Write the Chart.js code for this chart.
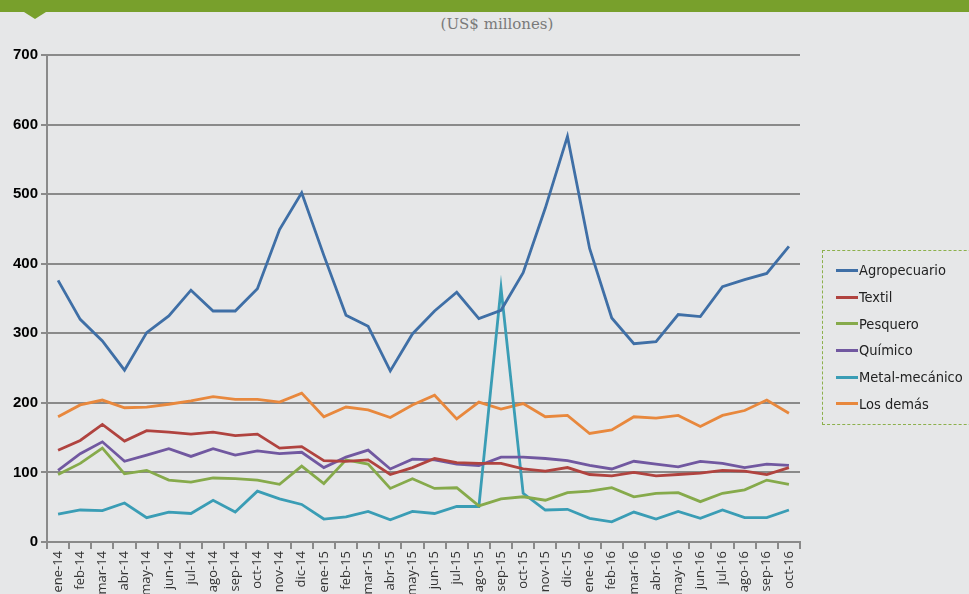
<!DOCTYPE html>
<html>
<head>
<meta charset="utf-8">
<script src="https://cdn.jsdelivr.net/npm/chart.js@4"></script>
<style>
  html, body { margin: 0; padding: 0; background: #e6e7e8; }
  #wrap { position: relative; width: 969px; height: 594px; overflow: hidden; }
  #topbar { position: absolute; left: 0; top: 0; width: 969px; height: 12px; background: #78a02c; }
  #notch { position: absolute; left: 24px; top: 12px; width: 0; height: 0;
    border-left: 11px solid transparent; border-right: 11px solid transparent; border-top: 7px solid #78a02c; }
  #unit { position: absolute; left: 0; width: 994px; top: 15px; text-align: center;
    font: 15px "DejaVu Serif", "Liberation Serif", serif; color: #7a7a7a; }
  #chartBox { position: absolute; left: 0; top: 0; width: 969px; height: 594px; }
  #legend { position: absolute; left: 822px; top: 250px; width: 170px; height: 175px;
    border: 1px dashed #8cb04c; box-sizing: border-box; padding-top: 6px; }
  .item { display: flex; align-items: center; height: 26.7px;
    font: 14.5px "Liberation Sans Narrow", "DejaVu Sans Condensed", sans-serif; color: #222; }
  .item i { display: inline-block; width: 22px; height: 3px; margin: 0 1px 0 13px; }
</style>
</head>
<body>
<div id="wrap">
  <div id="topbar"></div>
  <div id="notch"></div>
  <div id="unit">(US$ millones)</div>
  <div id="chartBox"><canvas id="c" width="969" height="594"></canvas></div>
  <div id="legend"></div>
</div>
<script>
// ===== Data =====
const months = ['ene-14','feb-14','mar-14','abr-14','may-14','jun-14','jul-14','ago-14','sep-14','oct-14','nov-14','dic-14',
  'ene-15','feb-15','mar-15','abr-15','may-15','jun-15','jul-15','ago-15','sep-15','oct-15','nov-15','dic-15',
  'ene-16','feb-16','mar-16','abr-16','may-16','jun-16','jul-16','ago-16','sep-16','oct-16'];
const agropecuario = [376,320,289,247,301,325,362,332,332,364,449,502,412,326,310,246,299,332,359,321,333,387,480,583,422,322,285,288,327,324,367,377,386,425];
const textil = [132,146,169,145,160,158,155,158,153,155,135,137,117,116,118,97,107,120,114,113,113,105,102,107,97,95,100,95,97,99,103,102,97,107];
const pesquero = [97,113,135,98,103,89,86,92,91,89,83,109,84,118,112,77,91,77,78,52,62,65,60,71,73,78,65,70,71,58,70,75,89,83];
const quimico = [103,127,144,116,125,134,123,134,125,131,127,129,107,122,132,105,119,118,112,110,122,122,120,117,110,105,116,112,108,116,113,107,112,110];
const metalMecanico = [40,46,45,56,35,43,41,60,43,73,62,54,33,36,44,32,44,41,51,51,365,70,46,47,34,29,43,33,44,34,46,35,35,46];
const losDemas = [180,197,204,193,194,198,203,209,205,205,201,214,180,194,190,179,197,211,177,201,191,199,180,182,156,161,180,178,182,166,182,189,204,185];
const yTicks = [0,100,200,300,400,500,600,700];

const seriesNames = ['Agropecuario','Textil','Pesquero','Químico','Metal-mecánico','Los demás'];
const seriesData = [agropecuario, textil, pesquero, quimico, metalMecanico, losDemas];
const seriesColors = ['#3f6fa6','#b0433f','#86aa4b','#7158a0','#3a9db5','#e8883d'];

// ===== Chart =====
const grid = '#8a8a8a';
new Chart(document.getElementById('c'), {
  type: 'line',
  data: {
    labels: months,
    datasets: seriesNames.map((n, i) => ({
      label: n, data: seriesData[i], borderColor: seriesColors[i], backgroundColor: seriesColors[i],
      borderWidth: 2.8, pointRadius: 0, tension: 0, fill: false
    }))
  },
  options: {
    responsive: false, animation: false,
    layout: { padding: { top: 55, right: 169, left: 0, bottom: 0 } },
    plugins: { legend: { display: false }, tooltip: { enabled: false } },
    scales: {
      x: {
        offset: true,
        grid: { offset: true, drawOnChartArea: false, drawTicks: true, tickLength: 7, color: grid, lineWidth: 2 },
        border: { display: true, color: grid, width: 2 },
        ticks: { autoSkip: false, minRotation: 90, maxRotation: 90, padding: 2, color: '#333',
          font: { family: '"Open Sans", "Noto Sans", sans-serif', size: 13 } },
        afterFit: (s) => { s.height = 52; }
      },
      y: {
        min: 0, max: 700,
        afterBuildTicks: (s) => { s.ticks = yTicks.map(v => ({ value: v })); },
        grid: { color: grid, lineWidth: 2, tickLength: 6 },
        border: { display: true, color: grid, width: 2 },
        ticks: { color: '#000', padding: 3,
          font: { family: '"Liberation Sans", Arial, sans-serif', size: 15, weight: 'bold' } },
        afterFit: (s) => { s.width = 47; }
      }
    }
  }
});

// ===== Legend =====
const leg = document.getElementById('legend');
seriesNames.forEach((n, i) => {
  const d = document.createElement('div');
  d.className = 'item';
  d.innerHTML = `<i style="background:${seriesColors[i]}"></i>${n}`;
  leg.appendChild(d);
});
</script>
</body>
</html>
